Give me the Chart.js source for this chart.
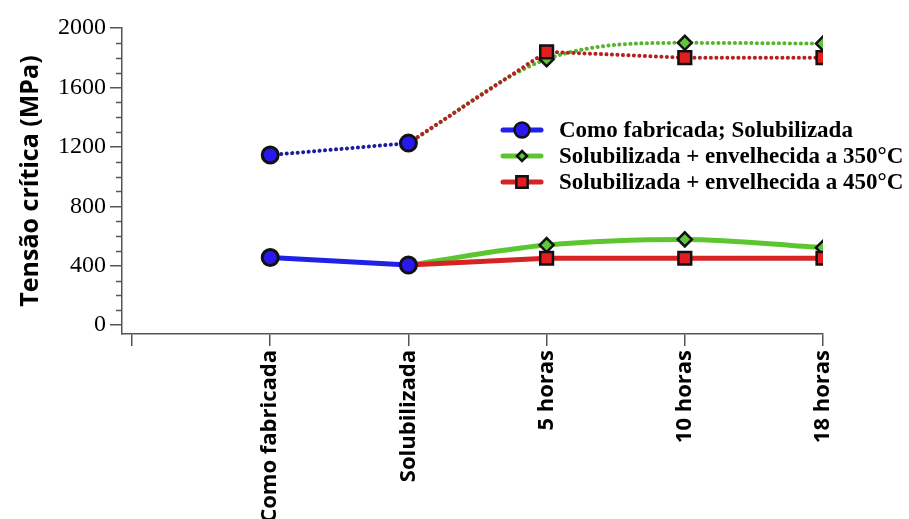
<!DOCTYPE html>
<html>
<head>
<meta charset="utf-8">
<script src="https://cdn.jsdelivr.net/npm/chart.js@4/dist/chart.umd.min.js"></script>
<style>
  html, body { margin: 0; padding: 0; background: #fff; overflow: hidden; }
  #wrap { width: 909px; height: 519px; position: relative; }
</style>
</head>
<body>
<div id="wrap"><canvas id="c" width="909" height="519"></canvas></div>
<script>
// Conditions along the x axis (position 0 is an empty slot next to the y axis)
const categories = ['Como fabricada', 'Solubilizada', '5 horas', '10 horas', '18 horas'];
const yTickValues = [0, 400, 800, 1200, 1600, 2000];
const seriesNames = [
  'Como fabricada; Solubilizada',
  'Solubilizada + envelhecida a 350°C',
  'Solubilizada + envelhecida a 450°C'
];

// Critical stress (MPa) per condition; null = no measurement for that series
const asBuiltLower  = [455, 404, null, null, null];
const asBuiltUpper  = [1145, 1225, null, null, null];
const aged350Lower  = [null, 404, 539, 577, 521];
const aged350Upper  = [null, 1225, 1790, 1900, 1895];
const aged450Lower  = [null, 404, 450, 450, 450];
const aged450Upper  = [null, 1225, 1840, 1800, 1800];

const BLUE_FILL = '#2a18f0', BLUE_LINE = '#2020e8', BLUE_DOT = '#1c1c9e';
const GREEN_FILL = '#5fc83a', GREEN_LINE = '#5cc630', GREEN_DOT = '#55b52c';
const RED_FILL = '#e41e1e', RED_LINE = '#d62424', RED_DOT = '#b42222';
const EDGE = '#111';

function toPoints(arr) {
  const pts = [];
  arr.forEach((v, i) => { if (v !== null) pts.push({ x: i + 1, y: v }); });
  return pts;
}

// Series that branch off the "Solubilizada" point carry no marker there
const hideAtBranch = r => ctx => (ctx.raw && ctx.raw.x === 2 ? 0 : r);

function solid(data, color, fill, style, radius, extra) {
  return Object.assign({
    data: toPoints(data), borderColor: color, borderWidth: 5,
    pointStyle: style, pointRadius: radius, pointBackgroundColor: fill,
    pointBorderColor: EDGE, pointBorderWidth: 2.5, pointHoverRadius: radius,
    tension: 0
  }, extra || {});
}
function dotted(data, color, fill, style, radius, extra) {
  return Object.assign({
    data: toPoints(data), borderColor: color, borderWidth: 4,
    borderDash: [0.1, 5.4], borderCapStyle: 'round',
    pointStyle: style, pointRadius: radius, pointBackgroundColor: fill,
    pointBorderColor: EDGE, pointBorderWidth: 2.5, pointHoverRadius: radius,
    tension: 0
  }, extra || {});
}

const datasets = [
  dotted(asBuiltUpper, BLUE_DOT, BLUE_FILL, 'circle', 8, { pointBorderWidth: 3 }),
  solid(asBuiltLower, BLUE_LINE, BLUE_FILL, 'circle', 8, { pointBorderWidth: 3 }),
  dotted(aged450Upper, RED_DOT, RED_FILL, 'rect', hideAtBranch(9)),
  solid(aged450Lower, RED_LINE, RED_FILL, 'rect', hideAtBranch(9)),
  dotted(aged350Upper, GREEN_DOT, GREEN_FILL, 'rectRot', hideAtBranch(7), { cubicInterpolationMode: 'monotone' }),
  solid(aged350Lower, GREEN_LINE, GREEN_FILL, 'rectRot', hideAtBranch(7), { cubicInterpolationMode: 'monotone' })
];

// Short unlabelled ticks every 100 MPa on the y axis
const minorTicks = {
  id: 'minorTicks',
  afterDraw(chart) {
    const y = chart.scales.y, ctx = chart.ctx, left = chart.chartArea.left;
    ctx.save();
    ctx.strokeStyle = '#555';
    ctx.lineWidth = 1.5;
    for (let v = 100; v < 2000; v += 100) {
      if (v % 400 === 0) continue;
      const py = Math.round(y.getPixelForValue(v)) + 0.5;
      ctx.beginPath();
      ctx.moveTo(left - 6, py);
      ctx.lineTo(left, py);
      ctx.stroke();
    }
    ctx.restore();
  }
};

function marker(ctx, style, x, y, r, fill) {
  ctx.beginPath();
  if (style === 'circle') {
    ctx.arc(x, y, r, 0, Math.PI * 2);
  } else if (style === 'rect') {
    const s = r * Math.SQRT1_2;
    ctx.rect(x - s, y - s, 2 * s, 2 * s);
  } else {
    ctx.moveTo(x, y - r); ctx.lineTo(x + r, y); ctx.lineTo(x, y + r); ctx.lineTo(x - r, y); ctx.closePath();
  }
  ctx.fillStyle = fill;
  ctx.fill();
  ctx.lineWidth = 2.5;
  ctx.strokeStyle = EDGE;
  ctx.stroke();
}

// Legend placed inside the plot, to the right
const insideLegend = {
  id: 'insideLegend',
  afterDraw(chart) {
    const ctx = chart.ctx;
    const rows = [
      { color: BLUE_LINE, fill: BLUE_FILL, style: 'circle', r: 7.5 },
      { color: GREEN_LINE, fill: GREEN_FILL, style: 'rectRot', r: 5 },
      { color: RED_LINE, fill: RED_FILL, style: 'rect', r: 8 }
    ];
    const x0 = 503, x1 = 541, tx = 559, top = 130, step = 26;
    ctx.save();
    rows.forEach((row, i) => {
      const y = top + i * step;
      ctx.beginPath();
      ctx.moveTo(x0, y); ctx.lineTo(x1, y);
      ctx.strokeStyle = row.color; ctx.lineWidth = 5; ctx.lineCap = 'round';
      ctx.stroke();
      marker(ctx, row.style, (x0 + x1) / 2, y, row.r, row.fill);
      ctx.fillStyle = '#000';
      ctx.font = 'bold 23px "Liberation Serif"';
      ctx.textBaseline = 'middle';
      ctx.textAlign = 'left';
      ctx.fillText(seriesNames[i], tx, y + 1);
    });
    ctx.restore();
  }
};

new Chart(document.getElementById('c'), {
  type: 'line',
  data: { datasets },
  plugins: [minorTicks, insideLegend],
  options: {
    responsive: false,
    animation: false,
    layout: { padding: { top: 28, right: 86, left: 0, bottom: 0 } },
    plugins: { legend: { display: false }, tooltip: { enabled: false } },
    scales: {
      x: {
        type: 'linear',
        min: -0.0725,
        max: 5,
        afterBuildTicks: s => { s.ticks = [0, 1, 2, 3, 4, 5].map(v => ({ value: v })); },
        afterFit: s => { s.height = 185; },
        grid: { drawOnChartArea: false, tickLength: 12, color: '#555', lineWidth: 1.5 },
        border: { color: '#555', width: 1.5 },
        ticks: {
          autoSkip: false, minRotation: 90, maxRotation: 90, padding: 4, color: '#000',
          font: { family: 'Open Sans', weight: 'bold', size: 22 },
          callback: v => (v >= 1 ? categories[v - 1] : '')
        }
      },
      y: {
        min: -60,
        max: 2000,
        afterBuildTicks: s => { s.ticks = yTickValues.map(v => ({ value: v })); },
        afterFit: s => { s.width = 122; },
        grid: { drawOnChartArea: false, tickLength: 12, color: '#555', lineWidth: 1.5 },
        border: { color: '#555', width: 1.5 },
        ticks: {
          padding: 4, color: '#000', font: { family: 'Liberation Serif', size: 24 },
          callback: v => String(v)
        },
        title: {
          display: true, text: 'Tensão crítica (MPa)', color: '#000',
          font: { family: 'Open Sans', weight: 'bold', size: 25 },
          padding: { top: 16, bottom: 0 }
        }
      }
    }
  }
});
</script>
</body>
</html>
